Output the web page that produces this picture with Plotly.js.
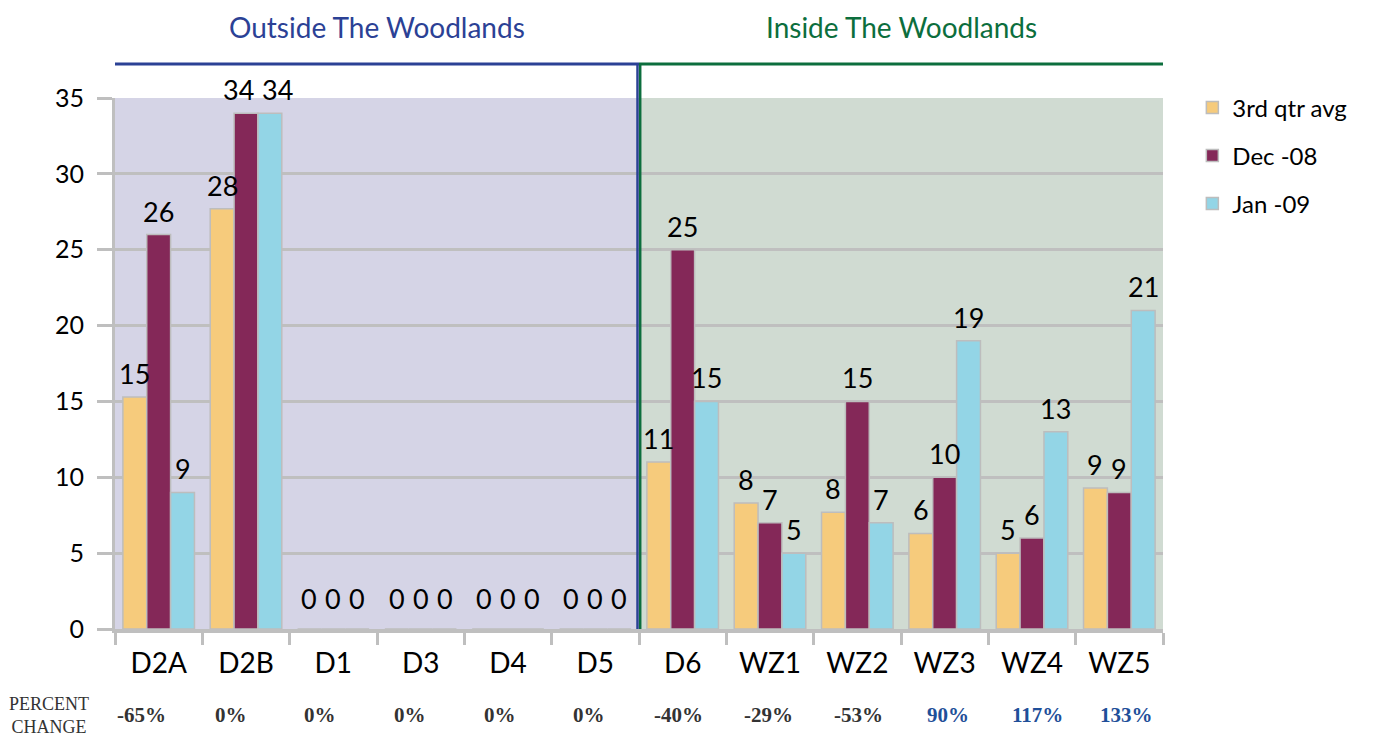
<!DOCTYPE html>
<html>
<head>
<meta charset="utf-8">
<script src="https://cdn.plot.ly/plotly-3.0.1.min.js"></script>
<style>
  html, body { margin: 0; padding: 0; background: #ffffff; }
  #chart { width: 1388px; height: 740px; }
</style>
</head>
<body>
<div id="chart"></div>
<script>
// ---- data ----
const categories = ["D2A", "D2B", "D1", "D3", "D4", "D5", "D6", "WZ1", "WZ2", "WZ3", "WZ4", "WZ5"];
const seriesNames = ["3rd qtr avg", "Dec -08", "Jan -09"];
const qtrAvg = [15.3, 27.7, 0, 0, 0, 0, 11, 8.3, 7.7, 6.3, 5, 9.3];
const dec08  = [26, 34, 0, 0, 0, 0, 25, 7, 15, 10, 6, 9];
const jan09  = [9, 34, 0, 0, 0, 0, 15, 5, 7, 19, 13, 21];
const pctChange = [-65, 0, 0, 0, 0, 0, -40, -29, -53, 90, 117, 133];
const groupTitles = ["Outside The Woodlands", "Inside The Woodlands"];
const yTicks = [0, 5, 10, 15, 20, 25, 30, 35];

// ---- style ----
const FONT = "Lato, 'Open Sans', sans-serif";
const SERIF = "'Liberation Serif', 'DejaVu Serif', serif";
const GRID = "#bfbfbf";
const colors = ["#f6cb7c", "#842858", "#93d5e6"];
const blue = "#2b4195";
const green = "#0c6e3d";

const W = 1388, H = 740;
const M = { l: 115, r: 225, t: 98, b: 111 };
const yMax = 35;
const BARGAP = 0.18;
const LABEL_SIZE = 27;

const seriesValues = [qtrAvg, dec08, jan09];
const legendIds = ["legend", "legend2", "legend3"];

const traces = seriesValues.map((vals, i) => ({
  type: "bar",
  name: seriesNames[i],
  x: categories,
  y: vals,
  marker: { color: colors[i], line: { color: "#bdbdbd", width: 1.5 } },
  hoverinfo: "x+y+name",
  legend: legendIds[i]
}));

const nOut = 6; // categories outside the Woodlands
const split = nOut - 0.5;
const last = categories.length - 0.5;
const headY = 1.064;

const shapes = [
  { type: "rect", xref: "x", yref: "paper", x0: -0.5, x1: split, y0: 0, y1: 1,
    fillcolor: "#d5d4e6", line: { width: 0 }, layer: "below" },
  { type: "rect", xref: "x", yref: "paper", x0: split, x1: last, y0: 0, y1: 1,
    fillcolor: "#d0dbd2", line: { width: 0 }, layer: "below" },
  { type: "line", xref: "x", yref: "paper", x0: -0.5, x1: split, y0: headY, y1: headY,
    line: { color: blue, width: 3 } },
  { type: "line", xref: "x", yref: "paper", x0: split, x1: last, y0: headY, y1: headY,
    line: { color: green, width: 3 } },
  { type: "line", xref: "x", yref: "paper", xsizemode: "pixel", xanchor: split,
    x0: -1.5, x1: -1.5, y0: 0, y1: headY, line: { color: blue, width: 2.5 }, layer: "above" },
  { type: "line", xref: "x", yref: "paper", xsizemode: "pixel", xanchor: split,
    x0: 1.2, x1: 1.2, y0: 0, y1: headY, line: { color: green, width: 2.5 }, layer: "above" }
];

const annotations = [
  { xref: "x", yref: "paper", x: (nOut - 1) / 2, y: 1.134, text: groupTitles[0], showarrow: false,
    font: { family: FONT, size: 28, color: blue }, yanchor: "middle" },
  { xref: "x", yref: "paper", x: nOut + (categories.length - nOut - 1) / 2, y: 1.134, text: groupTitles[1], showarrow: false,
    font: { family: FONT, size: 28, color: green }, yanchor: "middle" },
  { xref: "paper", yref: "paper", x: -0.063, y: -0.162, text: "PERCENT<br>CHANGE", showarrow: false,
    font: { family: SERIF, size: 18, color: "#333" }, xanchor: "center", yanchor: "middle", align: "center" }
];
// percent-change row: an evenly spaced text row set slightly wider than the category spacing
const pctStart = -0.2, pctStep = 1.026;
categories.forEach((c, i) => {
  const v = pctChange[i];
  annotations.push({
    xref: "x", yref: "paper", x: pctStart + i * pctStep, y: -0.162, showarrow: false,
    text: "<b>" + v + "%</b>",
    font: { family: SERIF, size: 21, color: v > 0 ? "#1f4f99" : "#333333" },
    yanchor: "middle"
  });
});

// ---- value labels: placed on each bar's centre, nudged apart where they would collide ----
const nS = seriesValues.length;
const barW = (1 - BARGAP) / nS;                 // bar width in category units
const pxPerCat = (W - M.l - M.r) / categories.length;
const pxPerUnit = (H - M.t - M.b) / yMax;
const charW = 0.58 * LABEL_SIZE;
categories.forEach((c, j) => {
  const labels = seriesValues.map((vals, i) => {
    const txt = String(Math.round(vals[j]));
    return { txt, y: vals[j], xc: (i - (nS - 1) / 2) * barW * pxPerCat, w: txt.length * charW, shift: 0 };
  });
  for (let i = 0; i < nS - 1; i++) {
    const a = labels[i], b = labels[i + 1];
    const vOverlap = Math.abs(a.y - b.y) * pxPerUnit < LABEL_SIZE * 1.1;
    const need = (a.w + b.w) / 2 + 8;
    const have = (b.xc + b.shift) - (a.xc + a.shift);
    if (vOverlap && have < need) {
      const d = (need - have) / 2;
      a.shift -= d; b.shift += d;
    }
  }
  labels.forEach((L, i) => {
    annotations.push({
      xref: "x", yref: "y", x: j + (i - (nS - 1) / 2) * barW, y: L.y,
      text: L.txt, showarrow: false, yanchor: "bottom", xanchor: "center",
      xshift: L.shift, yshift: L.y === 0 ? 12 : 5,
      font: { family: FONT, size: LABEL_SIZE, color: "#000" }
    });
  });
});

const legendBase = { x: 1.028, xanchor: "left", yanchor: "middle", bgcolor: "rgba(0,0,0,0)",
  font: { family: FONT, size: 24, color: "#000" }, itemwidth: 30 };
const legendY = [(629 - 108) / 531, (629 - 156) / 531, (629 - 204) / 531];

const layout = {
  width: W, height: H,
  margin: M,
  paper_bgcolor: "#ffffff",
  plot_bgcolor: "rgba(0,0,0,0)",
  barmode: "group",
  bargap: BARGAP,
  bargroupgap: 0,
  showlegend: true,
  legend: Object.assign({}, legendBase, { y: legendY[0] }),
  legend2: Object.assign({}, legendBase, { y: legendY[1] }),
  legend3: Object.assign({}, legendBase, { y: legendY[2] }),
  xaxis: {
    type: "category",
    categoryorder: "array",
    categoryarray: categories,
    range: [-0.5, last],
    tickson: "boundaries",
    ticks: "outside", ticklen: 12, tickwidth: 3, tickcolor: GRID,
    showline: true, linecolor: GRID, linewidth: 4,
    showgrid: false,
    tickfont: { family: FONT, size: 28, color: "#000" },
    ticklabelstandoff: 6
  },
  yaxis: {
    range: [0, yMax],
    tickvals: yTicks,
    ticks: "outside", ticklen: 15, tickwidth: 3, tickcolor: GRID,
    showline: true, linecolor: GRID, linewidth: 3,
    showgrid: true, gridcolor: GRID, gridwidth: 3,
    zeroline: false,
    tickfont: { family: FONT, size: 25, color: "#000" },
    ticklabelstandoff: 8
  },
  shapes: shapes,
  annotations: annotations
};

Plotly.newPlot("chart", traces, layout, { displayModeBar: false, responsive: false });
</script>
</body>
</html>
